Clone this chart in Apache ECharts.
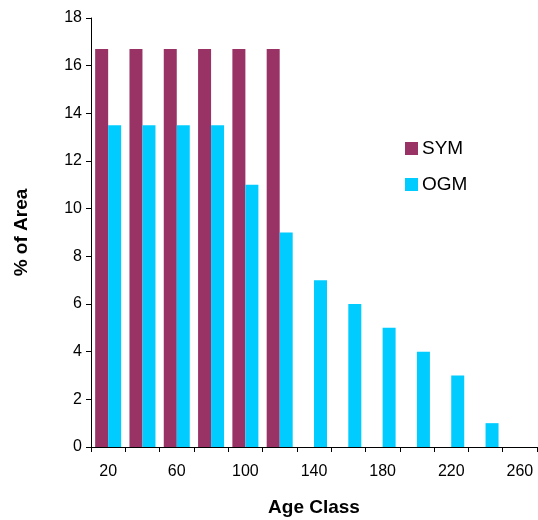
<!DOCTYPE html>
<html>
<head>
<meta charset="utf-8">
<script src="https://cdn.jsdelivr.net/npm/echarts@6/dist/echarts.min.js"></script>
<style>
  html, body { margin: 0; padding: 0; background: #fff; }
  #chart { width: 538px; height: 520px; }
</style>
</head>
<body>
<div id="chart"></div>
<script>
// Age classes (years)
const ageClasses = ['20', '40', '60', '80', '100', '120', '140', '160', '180', '200', '220', '240', '260'];
// Share of area per age class (%)
const symValues = [16.7, 16.7, 16.7, 16.7, 16.7, 16.7, null, null, null, null, null, null, null];
const ogmValues = [13.5, 13.5, 13.5, 13.5, 11, 9, 7, 6, 5, 4, 3, 1, null];
const yTicks = { min: 0, max: 18, interval: 2 };

const font = 'Arial, "Liberation Sans", Helvetica, sans-serif';
const chart = echarts.init(document.getElementById('chart'), null, { renderer: 'canvas' });

chart.setOption({
  animation: false,
  backgroundColor: '#ffffff',
  textStyle: { fontFamily: font, color: '#000' },
  grid: { left: 91, right: 1, top: 18, bottom: 73, containLabel: false, outerBoundsMode: 'none' },
  legend: {
    orient: 'vertical',
    left: 400,
    top: 134,
    itemWidth: 13,
    itemHeight: 13,
    itemGap: 17,
    icon: 'rect',
    textStyle: { fontFamily: font, fontSize: 19, color: '#000', padding: [0, 0, 0, -1] },
    data: ['SYM', 'OGM']
  },
  xAxis: {
    type: 'category',
    data: ageClasses,
    boundaryGap: true,
    name: 'Age Class',
    nameLocation: 'middle',
    nameGap: 51,
    nameMoveOverlap: false,
    nameTextStyle: { fontFamily: font, fontSize: 19, fontWeight: 'bold', color: '#000' },
    axisLine: { show: true, lineStyle: { color: '#000', width: 1 } },
    axisTick: { show: true, interval: 0, length: 5, lineStyle: { color: '#000' } },
    axisLabel: { interval: 1, margin: 17, fontFamily: font, fontSize: 16, color: '#000' },
    splitLine: { show: false }
  },
  yAxis: {
    type: 'value',
    min: yTicks.min,
    max: yTicks.max,
    interval: yTicks.interval,
    name: '% of Area',
    nameLocation: 'middle',
    nameGap: 60,
    nameMoveOverlap: false,
    nameRotate: 90,
    nameTextStyle: { fontFamily: font, fontSize: 19, fontWeight: 'bold', color: '#000' },
    axisLine: { show: true, lineStyle: { color: '#000', width: 1 } },
    axisTick: { show: true, length: 5, lineStyle: { color: '#000' } },
    axisLabel: { margin: 9, fontFamily: font, fontSize: 16, color: '#000' },
    splitLine: { show: false }
  },
  series: [
    {
      name: 'SYM',
      type: 'bar',
      data: symValues,
      barWidth: 13,
      barGap: '0%',
      itemStyle: { color: '#993366' }
    },
    {
      name: 'OGM',
      type: 'bar',
      data: ogmValues,
      barWidth: 13,
      barGap: '0%',
      itemStyle: { color: '#00CCFF' }
    }
  ]
});
</script>
</body>
</html>
